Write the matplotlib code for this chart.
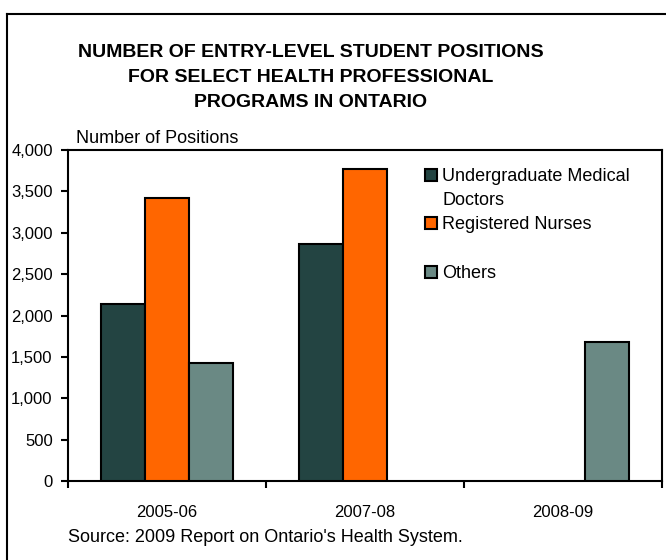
import numpy as np
import matplotlib.pyplot as plt
from matplotlib.lines import Line2D
from matplotlib.patches import Patch

plt.rcParams['font.family'] = ['Liberation Sans', 'DejaVu Sans']

# data
years = ['2005-06', '2007-08', '2008-09']
doctors = [2140, 2865, 0]
nurses = [3415, 3765, 0]
others = [1430, 0, 1675]

col_doc = '#234442'
col_nur = '#FF6600'
col_oth = '#6A8984'

fig = plt.figure(figsize=(6.66, 5.6), dpi=100)
ax = fig.add_axes([68/666, 1-481/560, (662-68)/666, (481-150)/560])

x = np.arange(len(years))
w = 0.222
bar_kw = dict(edgecolor='k', linewidth=1.5, zorder=3)
for i, (vals, col) in enumerate([(doctors, col_doc), (nurses, col_nur), (others, col_oth)]):
    xs = [xi + (i-1)*w for xi, v in zip(x, vals) if v > 0]
    vs = [v for v in vals if v > 0]
    ax.bar(xs, vs, width=w, color=col, **bar_kw)

ax.set_xlim(-0.5, 2.5)
ax.set_ylim(0, 4000)
ax.set_yticks(np.arange(0, 4001, 500))
ax.set_yticklabels(['{:,}'.format(v) for v in range(0, 4001, 500)], fontsize=12)
ax.set_xticks(x)
ax.set_xticklabels(years, fontsize=12)
ax.set_xticks([-0.5, 0.5, 1.5, 2.5], minor=True)
ax.tick_params(axis='x', which='major', length=0, pad=17)
ax.tick_params(axis='x', which='minor', length=5, width=1.5, direction='out')
ax.tick_params(axis='y', length=5, width=1.5, direction='out', pad=6)
for s in ax.spines.values():
    s.set_linewidth(1.5)

# legend
handles = [Patch(facecolor=col_doc, edgecolor='k', linewidth=1.5),
           Patch(facecolor='none', edgecolor='none'),
           Patch(facecolor=col_nur, edgecolor='k', linewidth=1.5),
           Patch(facecolor='none', edgecolor='none'),
           Patch(facecolor=col_oth, edgecolor='k', linewidth=1.5)]
labels = ['Undergraduate Medical', 'Doctors', 'Registered Nurses', ' ', 'Others']
ax.legend(handles, labels, loc='upper left', bbox_to_anchor=(425/666, 1-168/560),
          bbox_transform=fig.transFigure, frameon=False, fontsize=13,
          handlelength=0.65, handleheight=0.65, handletextpad=0.3,
          labelspacing=0.4, borderpad=0, borderaxespad=0)

# texts
fig.text(0.467, 1-44/560, 'NUMBER OF ENTRY-LEVEL STUDENT POSITIONS\nFOR SELECT HEALTH PROFESSIONAL\nPROGRAMS IN ONTARIO',
         ha='center', va='top', fontsize=14, fontweight='bold', linespacing=1.6)
fig.text(76/666, 1-143/560, 'Number of Positions', ha='left', va='baseline', fontsize=13)
fig.text(68/666, 1-537/560, "Source: 2009 Report on Ontario's Health System.", ha='left', va='center', fontsize=13)

# frame lines top and left
fig.add_artist(Line2D([7/666, 7/666], [0, 1-14/560], color='k', linewidth=1.5, transform=fig.transFigure))
fig.add_artist(Line2D([7/666, 1], [1-14/560, 1-14/560], color='k', linewidth=1.5, transform=fig.transFigure))

fig.savefig('out.png', dpi=100)
